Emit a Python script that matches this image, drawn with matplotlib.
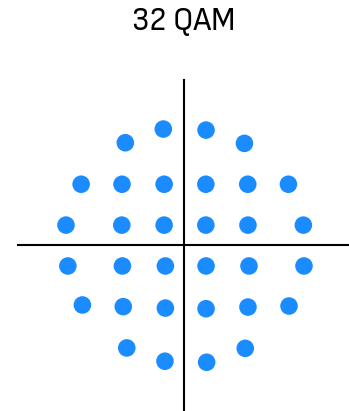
import matplotlib.pyplot as plt
from matplotlib import font_manager

# constellation points (I, Q)
i_vals = [-1.00, 1.06, -2.83, 2.91,
          -4.96, -2.99, -0.96, 1.05, 3.07, 5.03,
          -5.69, -3.00, -0.96, 1.05, 3.08, 5.75,
          -5.60, -2.97, -0.90, 1.06, 3.13, 5.78,
          -4.90, -2.93, -0.90, 1.06, 3.08, 5.06,
          -2.76, -0.92, 1.09, 2.95]
q_vals = [5.59, 5.54, 4.93, 4.90,
          2.93, 2.93, 2.93, 2.93, 2.93, 2.93,
          0.96, 0.96, 0.96, 0.96, 0.96, 0.96,
          -1.01, -1.01, -1.01, -1.01, -1.01, -1.01,
          -2.89, -2.97, -3.04, -3.07, -2.99, -2.94,
          -4.96, -5.60, -5.65, -4.98]

fig = plt.figure(figsize=(3.49, 4.11), dpi=100)
ax = fig.add_axes([0, 0, 1, 1])
ax.set_xlim(-8.87, 7.95)
ax.set_ylim(-8.0, 11.81)
ax.axis("off")

ax.plot([-8.0, 7.9], [0, 0], color="black", lw=1.5)
ax.plot([0, 0], [-8.0, 7.95], color="black", lw=1.5)
ax.scatter(i_vals, q_vals, s=160, color="#1a8cff", edgecolors="none", zorder=3)

# pick a narrow face if one is around
names = {f.name for f in font_manager.fontManager.ttflist}
narrow = [n for n in names if "Condensed" in n or "Narrow" in n]
fam = narrow[:1] + ["Roboto", "DejaVu Sans"]
fig.text(0.525, 0.948, "32 QAM", ha="center", va="center", fontsize=24,
         family=fam, stretch="condensed")

fig.savefig("out.png", dpi=100)
